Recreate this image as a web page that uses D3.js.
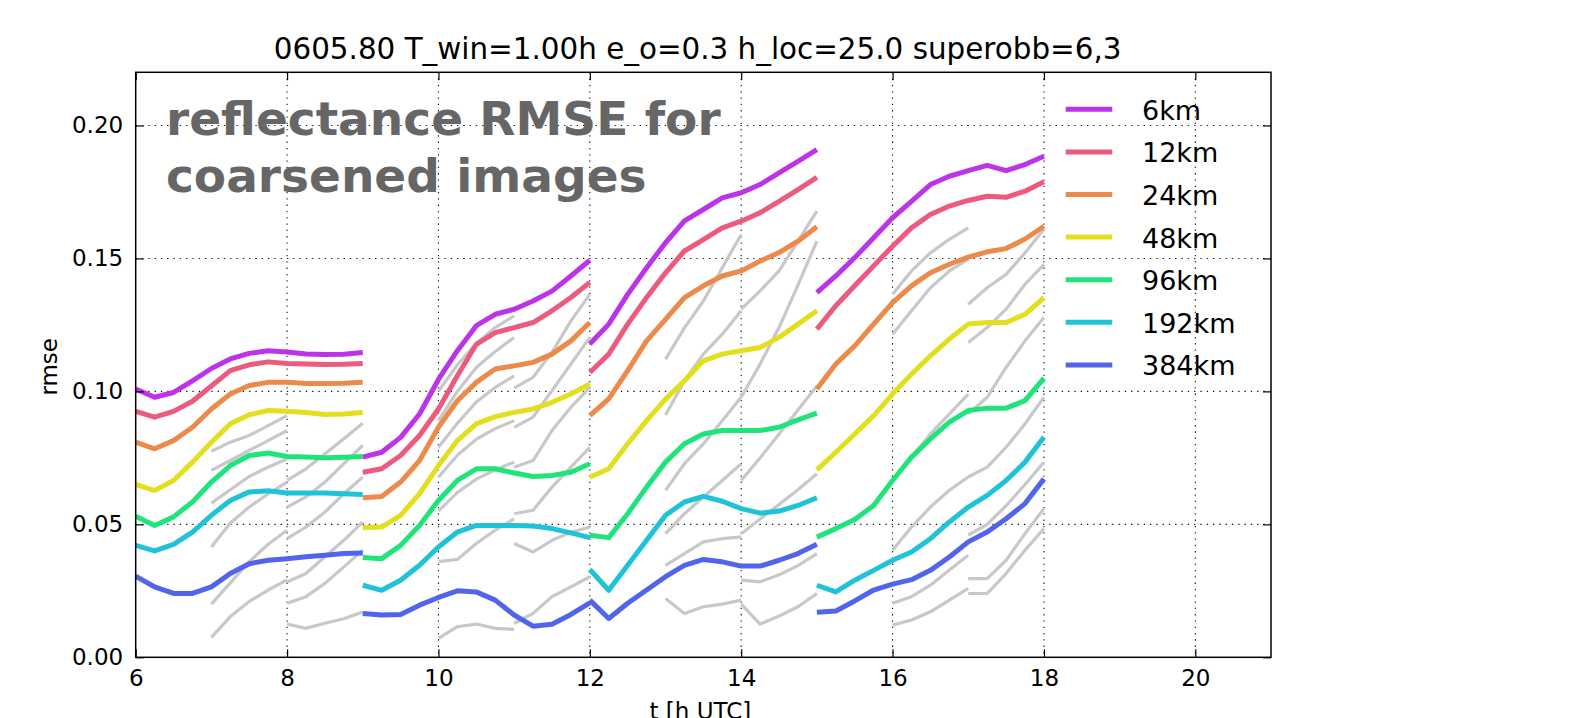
<!DOCTYPE html>
<html>
<head>
<meta charset="utf-8">
<script src="https://cdn.jsdelivr.net/npm/d3@7"></script>
<style>
  html, body { margin: 0; padding: 0; background: #ffffff; }
  svg { display: block; }
  text { font-family: "DejaVu Sans", sans-serif; fill: #000; }
</style>
</head>
<body>
<svg id="chart" width="1583" height="718"></svg>
<script>
// ---------------- data ----------------
const titleText = "0605.80 T_win=1.00h e_o=0.3 h_loc=25.0 superobb=6,3";
const annotationLines = ["reflectance RMSE for", "coarsened images"];
const xLabel = "t [h UTC]";
const yLabel = "rmse";

const xTicks = [6, 8, 10, 12, 14, 16, 18, 20];
const yTicks = [0.00, 0.05, 0.10, 0.15, 0.20];

// analysis cycles: start hour of each segment, offsets (hours) of the points
const segmentStarts = [6, 9, 12, 15];
const segmentOffsets = [0, 0.25, 0.5, 0.75, 1, 1.25, 1.5, 1.75, 2, 2.25, 2.5, 2.75, 3];

const scaleNames = ["6km", "12km", "24km", "48km", "96km", "192km", "384km"];
const scaleColors = ["#bd33ea", "#ec5a7d", "#ec8a4b", "#e3df1f", "#1fe47a", "#1fc3d8", "#5064ec"];

const rmse6km = [
  [0.1009, 0.0978, 0.0996, 0.1040, 0.1086, 0.1122, 0.1143, 0.1153, 0.1148, 0.1141, 0.1139, 0.1140, 0.1146],
  [0.0753, 0.0771, 0.0827, 0.0915, 0.1045, 0.1153, 0.1247, 0.1290, 0.1309, 0.1340, 0.1377, 0.1434, 0.1493],
  [0.1178, 0.1253, 0.1365, 0.1465, 0.1559, 0.1641, 0.1684, 0.1728, 0.1747, 0.1778, 0.1822, 0.1865, 0.1909],
  [0.1371, 0.1434, 0.1503, 0.1578, 0.1653, 0.1715, 0.1778, 0.1809, 0.1830, 0.1850, 0.1830, 0.1853, 0.1884]
];
const rmse12km = [
  [0.0925, 0.0903, 0.0925, 0.0963, 0.1020, 0.1078, 0.1100, 0.1111, 0.1105, 0.1103, 0.1101, 0.1102, 0.1105],
  [0.0696, 0.0709, 0.0759, 0.0834, 0.0934, 0.1059, 0.1177, 0.1221, 0.1240, 0.1259, 0.1303, 0.1353, 0.1410],
  [0.1071, 0.1140, 0.1253, 0.1353, 0.1446, 0.1528, 0.1571, 0.1615, 0.1640, 0.1672, 0.1715, 0.1759, 0.1805],
  [0.1234, 0.1322, 0.1397, 0.1472, 0.1546, 0.1615, 0.1665, 0.1697, 0.1718, 0.1734, 0.1730, 0.1753, 0.1788]
];
const rmse24km = [
  [0.0809, 0.0784, 0.0815, 0.0865, 0.0934, 0.0990, 0.1022, 0.1034, 0.1034, 0.1030, 0.1030, 0.1031, 0.1034],
  [0.0600, 0.0605, 0.0659, 0.0740, 0.0865, 0.0965, 0.1034, 0.1084, 0.1096, 0.1109, 0.1140, 0.1190, 0.1259],
  [0.0909, 0.0972, 0.1078, 0.1190, 0.1271, 0.1353, 0.1397, 0.1434, 0.1453, 0.1490, 0.1522, 0.1565, 0.1619],
  [0.1009, 0.1103, 0.1171, 0.1253, 0.1334, 0.1397, 0.1446, 0.1478, 0.1505, 0.1525, 0.1537, 0.1573, 0.1621]
];
const rmse48km = [
  [0.0650, 0.0627, 0.0665, 0.0734, 0.0809, 0.0878, 0.0912, 0.0928, 0.0925, 0.0921, 0.0913, 0.0915, 0.0921],
  [0.0488, 0.0490, 0.0534, 0.0615, 0.0721, 0.0815, 0.0878, 0.0905, 0.0921, 0.0934, 0.0959, 0.0990, 0.1028],
  [0.0677, 0.0709, 0.0803, 0.0890, 0.0971, 0.1040, 0.1115, 0.1140, 0.1153, 0.1165, 0.1203, 0.1253, 0.1303],
  [0.0705, 0.0771, 0.0840, 0.0909, 0.0990, 0.1065, 0.1134, 0.1197, 0.1253, 0.1259, 0.1259, 0.1290, 0.1353]
];
const rmse96km = [
  [0.0530, 0.0496, 0.0528, 0.0584, 0.0659, 0.0721, 0.0759, 0.0768, 0.0755, 0.0753, 0.0750, 0.0752, 0.0755],
  [0.0375, 0.0371, 0.0421, 0.0496, 0.0590, 0.0665, 0.0709, 0.0709, 0.0693, 0.0680, 0.0684, 0.0696, 0.0728],
  [0.0459, 0.0450, 0.0540, 0.0640, 0.0734, 0.0803, 0.0840, 0.0853, 0.0853, 0.0853, 0.0865, 0.0893, 0.0918],
  [0.0452, 0.0484, 0.0518, 0.0571, 0.0665, 0.0753, 0.0821, 0.0884, 0.0928, 0.0937, 0.0937, 0.0965, 0.1050]
];
const rmse192km = [
  [0.0421, 0.0400, 0.0425, 0.0471, 0.0534, 0.0590, 0.0622, 0.0626, 0.0618, 0.0618, 0.0618, 0.0615, 0.0612],
  [0.0271, 0.0252, 0.0290, 0.0346, 0.0415, 0.0471, 0.0496, 0.0496, 0.0496, 0.0494, 0.0484, 0.0468, 0.0450],
  [0.0330, 0.0252, 0.0346, 0.0440, 0.0534, 0.0584, 0.0605, 0.0587, 0.0559, 0.0542, 0.0550, 0.0571, 0.0600],
  [0.0271, 0.0246, 0.0290, 0.0327, 0.0365, 0.0396, 0.0446, 0.0509, 0.0565, 0.0609, 0.0665, 0.0734, 0.0828]
];
const rmse384km = [
  [0.0305, 0.0265, 0.0240, 0.0240, 0.0265, 0.0315, 0.0352, 0.0365, 0.0371, 0.0378, 0.0384, 0.0390, 0.0392],
  [0.0165, 0.0159, 0.0161, 0.0196, 0.0225, 0.0250, 0.0246, 0.0215, 0.0159, 0.0117, 0.0124, 0.0161, 0.0205],
  [0.0215, 0.0146, 0.0203, 0.0253, 0.0303, 0.0346, 0.0368, 0.0359, 0.0343, 0.0343, 0.0365, 0.0390, 0.0425],
  [0.0169, 0.0174, 0.0212, 0.0253, 0.0275, 0.0292, 0.0327, 0.0377, 0.0434, 0.0471, 0.0521, 0.0578, 0.0671]
];
const rmseByScale = [rmse6km, rmse12km, rmse24km, rmse48km, rmse96km, rmse192km, rmse384km];

// free forecasts (gray): start hour and one 1-hour curve per scale
const forecastStarts = [7, 8, 10, 11, 13, 14, 16, 17];
const forecastOffsets = [0, 0.25, 0.5, 0.75, 1];
const forecastRmse = [
  [ // 7h
    [0.0775, 0.0809, 0.0834, 0.0871, 0.0909],
    [0.0703, 0.0740, 0.0778, 0.0815, 0.0853],
    [0.0580, 0.0630, 0.0680, 0.0715, 0.0747],
    [0.0415, 0.0505, 0.0565, 0.0615, 0.0659],
    [0.0200, 0.0280, 0.0360, 0.0425, 0.0478],
    [0.0075, 0.0153, 0.0210, 0.0253, 0.0291]
  ],
  [ // 8h
    [0.0665, 0.0709, 0.0765, 0.0822, 0.0880],
    [0.0565, 0.0603, 0.0659, 0.0728, 0.0797],
    [0.0446, 0.0490, 0.0546, 0.0615, 0.0678],
    [0.0283, 0.0315, 0.0378, 0.0440, 0.0509],
    [0.0203, 0.0228, 0.0278, 0.0340, 0.0403],
    [0.0125, 0.0109, 0.0128, 0.0145, 0.0170]
  ],
  [ // 10h
    [0.1000, 0.1100, 0.1180, 0.1240, 0.1284],
    [0.0890, 0.1000, 0.1090, 0.1150, 0.1203],
    [0.0790, 0.0880, 0.0960, 0.1015, 0.1058],
    [0.0677, 0.0760, 0.0820, 0.0860, 0.0890],
    [0.0550, 0.0620, 0.0670, 0.0705, 0.0734],
    [0.0360, 0.0368, 0.0428, 0.0478, 0.0521],
    [0.0071, 0.0115, 0.0125, 0.0109, 0.0105]
  ],
  [ // 11h
    [0.1012, 0.1053, 0.1147, 0.1265, 0.1365],
    [0.0865, 0.0903, 0.1003, 0.1103, 0.1203],
    [0.0715, 0.0740, 0.0853, 0.0940, 0.1015],
    [0.0540, 0.0553, 0.0640, 0.0715, 0.0790],
    [0.0428, 0.0396, 0.0440, 0.0470, 0.0490],
    [0.0127, 0.0165, 0.0228, 0.0265, 0.0303]
  ],
  [ // 13h
    [0.1121, 0.1239, 0.1340, 0.1465, 0.1590],
    [0.0911, 0.1040, 0.1140, 0.1215, 0.1303],
    [0.0628, 0.0728, 0.0803, 0.0890, 0.0978],
    [0.0465, 0.0540, 0.0603, 0.0665, 0.0728],
    [0.0346, 0.0390, 0.0434, 0.0446, 0.0453],
    [0.0221, 0.0165, 0.0190, 0.0200, 0.0215]
  ],
  [ // 14h
    [0.1309, 0.1378, 0.1453, 0.1565, 0.1678],
    [0.0978, 0.1103, 0.1240, 0.1400, 0.1565],
    [0.0665, 0.0750, 0.0840, 0.0930, 0.1020],
    [0.0465, 0.0520, 0.0575, 0.0630, 0.0690],
    [0.0290, 0.0284, 0.0310, 0.0345, 0.0390],
    [0.0200, 0.0125, 0.0155, 0.0190, 0.0240]
  ],
  [ // 16h
    [0.1365, 0.1453, 0.1521, 0.1572, 0.1615],
    [0.1215, 0.1303, 0.1390, 0.1453, 0.1497],
    [0.0665, 0.0753, 0.0840, 0.0915, 0.0990],
    [0.0403, 0.0490, 0.0565, 0.0628, 0.0678],
    [0.0203, 0.0228, 0.0271, 0.0328, 0.0384],
    [0.0121, 0.0140, 0.0171, 0.0215, 0.0259]
  ],
  [ // 17h
    [0.1328, 0.1390, 0.1440, 0.1521, 0.1610],
    [0.1184, 0.1240, 0.1309, 0.1403, 0.1478],
    [0.0915, 0.0978, 0.1090, 0.1190, 0.1278],
    [0.0678, 0.0715, 0.0790, 0.0878, 0.0978],
    [0.0460, 0.0500, 0.0570, 0.0650, 0.0734],
    [0.0296, 0.0296, 0.0365, 0.0465, 0.0559],
    [0.0240, 0.0240, 0.0315, 0.0403, 0.0484]
  ]
];

// ---------------- layout ----------------
const plot = { left: 135.7, right: 1271, top: 72.3, bottom: 657.3 };

const svg = d3.select("#chart");
const x = d3.scaleLinear().domain([6, 21]).range([plot.left, plot.right]);
const y = d3.scaleLinear().domain([0, 0.22]).range([plot.bottom, plot.top]);

// grid
const grid = svg.append("g").attr("class", "grid")
  .attr("stroke", "#111").attr("stroke-width", 1.1).attr("stroke-dasharray", "1.3,5");
grid.selectAll("line.v").data(xTicks.filter(d => d > 6)).enter().append("line")
  .attr("x1", d => x(d)).attr("x2", d => x(d)).attr("y1", plot.top).attr("y2", plot.bottom);
grid.selectAll("line.h").data(yTicks.filter(d => d > 0)).enter().append("line")
  .attr("y1", d => y(d)).attr("y2", d => y(d)).attr("x1", plot.left).attr("x2", plot.right);

const line = d3.line().x(d => x(d[0])).y(d => y(d[1]));

// gray forecasts
const grayG = svg.append("g");
forecastStarts.forEach((t0, i) => {
  forecastRmse[i].forEach(vals => {
    const pts = vals.map((v, k) => [t0 + forecastOffsets[k], v]);
    grayG.append("path").attr("d", line(pts))
      .attr("fill", "none").attr("stroke", "#c8c8c8").attr("stroke-width", 3.2)
      .attr("stroke-linejoin", "round");
  });
});

// colored analysis lines
const colG = svg.append("g");
rmseByScale.forEach((segs, si) => {
  segs.forEach((vals, j) => {
    const pts = vals.map((v, k) => [segmentStarts[j] + segmentOffsets[k], v]);
    colG.append("path").attr("d", line(pts))
      .attr("fill", "none").attr("stroke", scaleColors[si]).attr("stroke-width", 5)
      .attr("stroke-linejoin", "round").attr("stroke-linecap", "butt");
  });
});

// axes (ticks inside, like matplotlib classic)
const fmt = d3.format(".2f");
const xAxisB = d3.axisBottom(x).tickValues(xTicks).tickFormat(d3.format("d")).tickSizeInner(-8).tickSizeOuter(0).tickPadding(12.5);
const xAxisT = d3.axisTop(x).tickValues(xTicks).tickFormat("").tickSizeInner(-8).tickSizeOuter(0);
const yAxisL = d3.axisLeft(y).tickValues(yTicks).tickFormat(fmt).tickSizeInner(-8).tickSizeOuter(0).tickPadding(12.5);
const yAxisR = d3.axisRight(y).tickValues(yTicks).tickFormat("").tickSizeInner(-8).tickSizeOuter(0);

function styleAxis(g) {
  g.select(".domain").remove();
  g.selectAll(".tick line").attr("stroke", "#000").attr("stroke-width", 1.2);
  g.selectAll(".tick text").attr("font-family", "DejaVu Sans").attr("font-size", 23).attr("fill", "#000");
}
svg.append("g").attr("transform", `translate(0,${plot.bottom})`).call(xAxisB).call(styleAxis);
svg.append("g").attr("transform", `translate(0,${plot.top})`).call(xAxisT).call(styleAxis);
svg.append("g").attr("transform", `translate(${plot.left},0)`).call(yAxisL).call(styleAxis);
svg.append("g").attr("transform", `translate(${plot.right},0)`).call(yAxisR).call(styleAxis);

// frame
svg.append("rect")
  .attr("x", plot.left).attr("y", plot.top)
  .attr("width", plot.right - plot.left).attr("height", plot.bottom - plot.top)
  .attr("fill", "none").attr("stroke", "#000").attr("stroke-width", 1.5);

// annotation
const ann = svg.append("text").attr("font-family", "DejaVu Sans").attr("font-weight", "bold")
  .attr("font-size", 47).style("fill", "#666666");
annotationLines.forEach((s, i) => {
  ann.append("tspan").attr("x", 166).attr("y", 135 + i * 57).text(s);
});

// legend
const leg = svg.append("g");
scaleNames.forEach((name, i) => {
  const ry = 109.3 + i * 42.6;
  leg.append("line").attr("x1", 1065.7).attr("x2", 1112.3).attr("y1", ry).attr("y2", ry)
    .attr("stroke", scaleColors[i]).attr("stroke-width", 5);
  leg.append("text").attr("x", 1142).attr("y", ry + 10.5)
    .attr("font-size", 27).text(name);
});

// title and axis labels
svg.append("text").attr("x", 697.6).attr("y", 58.5).attr("text-anchor", "middle")
  .attr("font-size", 29.4).text(titleText);
svg.append("text").attr("x", (plot.left + plot.right) / 2 - 3).attr("y", 719).attr("text-anchor", "middle")
  .attr("font-size", 23).text(xLabel);
svg.append("text").attr("transform", `translate(57,${(plot.top + plot.bottom) / 2 + 2}) rotate(-90)`)
  .attr("text-anchor", "middle").attr("font-size", 23).text(yLabel);
</script>
</body>
</html>
